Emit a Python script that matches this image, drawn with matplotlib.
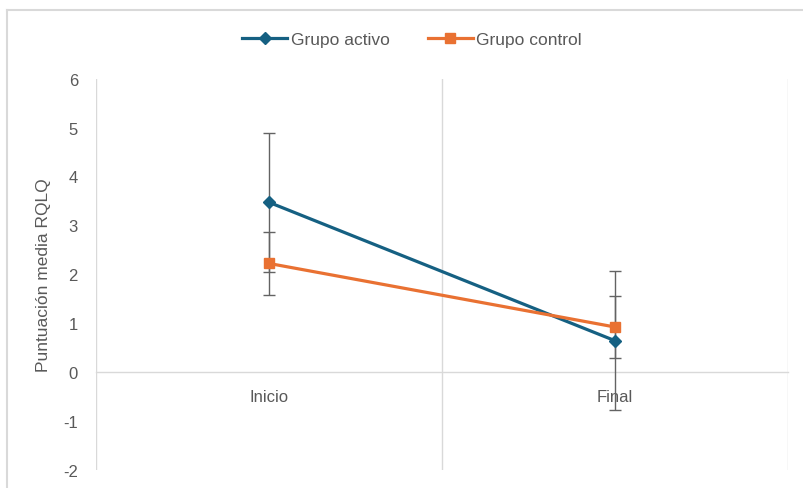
import matplotlib
matplotlib.use("Agg")
import matplotlib.pyplot as plt
from matplotlib.lines import Line2D

categories = ["Inicio", "Final"]
activo = [3.47, 0.64]
activo_err = [1.42, 1.42]
control = [2.22, 0.92]
control_err = [0.64, 0.63]
yticks = [-2, -1, 0, 1, 2, 3, 4, 5, 6]

blue = "#156082"
orange = "#E97132"
grey_txt = "#595959"
grid_c = "#D9D9D9"

plt.rcParams['font.family'] = ['Liberation Sans', 'DejaVu Sans']

fig = plt.figure(figsize=(8.04, 4.89), dpi=100)
ax = fig.add_axes([96/804, 1-470.8/489, 692/804, 391.2/489])

x = list(range(len(categories)))

ax.errorbar(x, activo, yerr=activo_err, fmt='none', ecolor='#636363',
            elinewidth=1.0, capsize=4, capthick=1.0, zorder=3)
ax.errorbar(x, control, yerr=control_err, fmt='none', ecolor='#636363',
            elinewidth=1.0, capsize=4, capthick=1.0, zorder=3)
ax.plot(x, activo, color=blue, lw=2.3, marker='D', ms=6.5, zorder=4,
        label="Grupo activo")
ax.plot(x, control, color=orange, lw=2.3, marker='s', ms=7.5, zorder=4,
        label="Grupo control")

ax.set_xlim(-0.5, len(categories) - 0.5)
ax.set_ylim(-2, 6)
ax.set_yticks(yticks)
ax.set_yticklabels([str(v) for v in yticks])
ax.set_xticks(x)
ax.set_xticklabels(categories)

for b in [i - 0.5 for i in range(len(categories) + 1)]:
    ax.axvline(b, color=grid_c, lw=1.0, zorder=1)

for s in ['top', 'right', 'left']:
    ax.spines[s].set_visible(False)
ax.spines['bottom'].set_position(('data', 0))
ax.spines['bottom'].set_color(grid_c)
ax.spines['bottom'].set_linewidth(1.0)

ax.tick_params(axis='y', length=0, pad=13, labelsize=12, labelcolor=grey_txt)
ax.tick_params(axis='x', length=0, pad=12, labelsize=12, labelcolor=grey_txt)

ax.set_ylabel("Puntuación media RQLQ", fontsize=12.5, color=grey_txt)
ax.yaxis.set_label_coords(-(96-51)/692, 0.5)

fig.legend(loc='center', bbox_to_anchor=(412/804, 1-40/489), ncol=2,
           frameon=False, fontsize=12.5, labelcolor=grey_txt,
           handlelength=2.6, handletextpad=0.2, columnspacing=2.2)

# chart border
x0 = 7/804
ytop = 1 - 10.5/489
fig.add_artist(Line2D([x0, x0], [0, ytop], transform=fig.transFigure,
                      color=grid_c, lw=1.5))
fig.add_artist(Line2D([x0, 1], [ytop, ytop], transform=fig.transFigure,
                      color=grid_c, lw=1.5))

fig.savefig("out.png", dpi=100)
